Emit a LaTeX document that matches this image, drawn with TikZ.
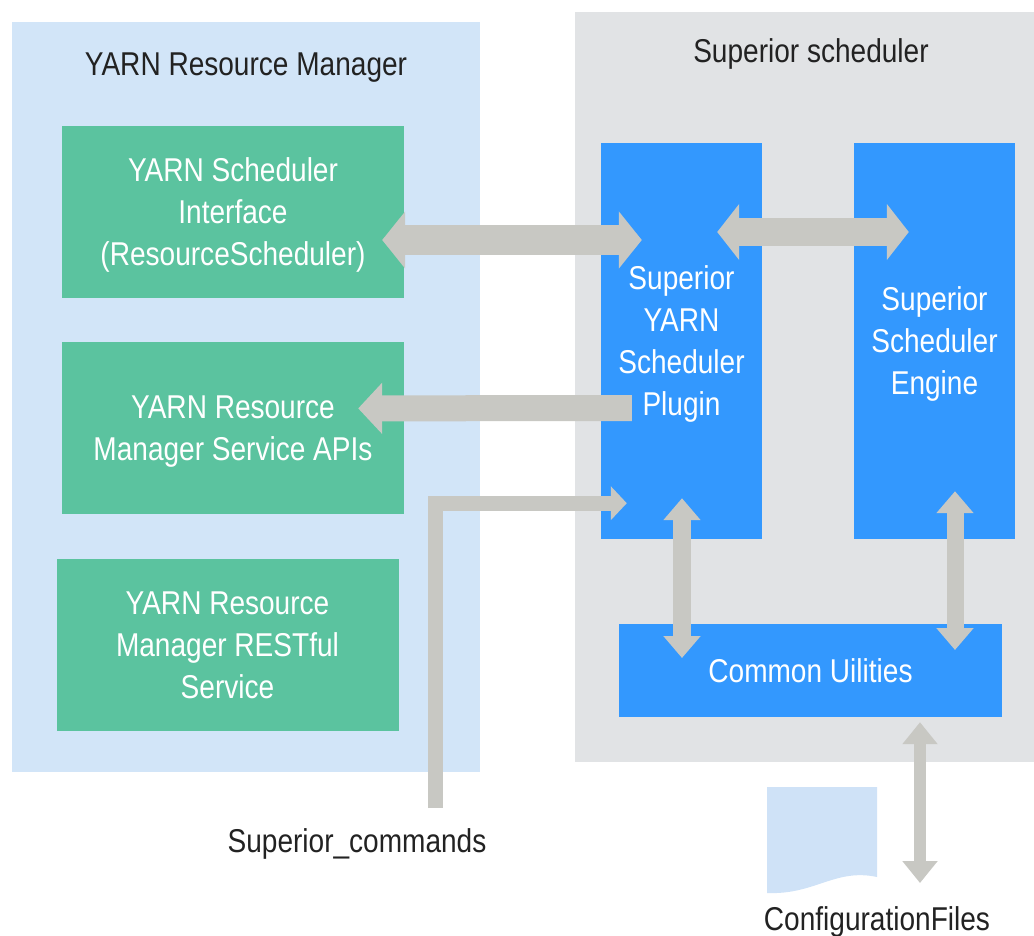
\documentclass[tikz,border=0pt]{standalone}
\usepackage{fontspec}
\setmainfont{Liberation Sans}[FakeStretch=0.85]
\usepackage{xcolor}
\usetikzlibrary{arrows.meta,positioning,calc}

\definecolor{rmback}{HTML}{D2E5F8}
\definecolor{ssback}{HTML}{E1E3E5}
\definecolor{rmgreen}{HTML}{5BC39F}
\definecolor{ssblue}{HTML}{3398FE}
\definecolor{flowgray}{HTML}{C8C8C3}
\definecolor{cfgblue}{HTML}{CFE2F7}
\definecolor{labeltext}{HTML}{222222}

\begin{document}
\begin{tikzpicture}[x=1pt,y=-1pt,node distance=44pt,>=Latex,font=\fontsize{33}{42}\selectfont]
  \tikzstyle{panel}=[inner sep=0pt,anchor=north west]
  \tikzstyle{heading}=[text=labeltext,anchor=base,inner sep=0pt]
  \tikzstyle{gbox}=[fill=rmgreen,text=white,align=center,text depth=-6pt,minimum width=342pt,minimum height=172pt,inner sep=0pt]
  \tikzstyle{bbox}=[fill=ssblue,text=white,align=center,text depth=-6pt,minimum width=161pt,minimum height=396pt,inner sep=0pt]
  \tikzstyle{flow}=[draw=flowgray]
  \useasboundingbox (0,0) rectangle (1034,935);

  % the two groups
  \node[panel,fill=rmback,minimum width=468pt,minimum height=750pt] (rm) at (12,22) {};
  \node[panel,fill=ssback,minimum width=459pt,minimum height=750pt] (ss) at (575,12) {};
  \node[heading] (rmtitle) at (246,75) {YARN Resource Manager};
  \node[heading] (sstitle) at (811,62) {Superior scheduler};

  % resource manager parts
  \node[gbox] (ifc) at (233,212) {YARN Scheduler\\Interface\\(ResourceScheduler)};
  \node[gbox,below=of ifc] (api) {YARN Resource\\Manager Service APIs};
  \node[gbox,below=of api,xshift=-5.5pt] (rest) {YARN Resource\\Manager RESTful\\Service};

  % superior scheduler parts
  \node[bbox] (plugin) at (681.5,341) {Superior\\YARN\\Scheduler\\Plugin};
  \node[bbox] (engine) at (934.5,341) {Superior\\Scheduler\\Engine};
  \node[fill=ssblue,text=white,minimum width=383pt,minimum height=93pt,inner sep=0pt] (util) at (810.5,670.5) {Common Uilities};

  % outside
  \node[heading] (cmd) at (357,852) {Superior\_commands};
  \fill[cfgblue] (767,787) -- (877,787) -- (877,877) .. controls (835,868) and (815,895) .. (767,893) -- cycle;
  \node[heading] (cfg) at (877,930) {ConfigurationFiles};
  \coordinate (cfgend) at (920,883);

  % flows
  \draw[flow,line width=30pt,{Triangle[width=56pt,length=23pt]}-{Triangle[width=56pt,length=23pt]}]
    ([shift={(-22,28)}]ifc.east) -- ([shift={(41,-101)}]plugin.west);
  \draw[flow,line width=28pt,{Triangle[width=55pt,length=22pt]}-{Triangle[width=55pt,length=22pt]}]
    ([shift={(-45,-109)}]plugin.east) -- ([shift={(55,-109)}]engine.west);
  \draw[flow,line width=26pt,-{Triangle[width=50pt,length=24pt]}]
    ([shift={(31,67)}]plugin.west) -- ([shift={(-46,-20)}]api.east);
  \draw[flow,line width=15pt,-{Triangle[width=33pt,length=16pt]}]
    ([shift={(78,-44)}]cmd.base) |- ([shift={(26,-36)}]plugin.south west);
  \draw[flow,line width=18pt,{Triangle[width=36pt,length=22pt]}-{Triangle[width=36pt,length=22pt]}]
    ([shift={(0.5,-41)}]plugin.south) -- ($(plugin.south |- util.center)+(0.5,-12.5)$);
  \draw[flow,line width=17pt,{Triangle[width=36pt,length=22pt]}-{Triangle[width=36pt,length=22pt]}]
    ([shift={(20.5,-48)}]engine.south) -- ($(engine.south |- util.center)+(20.5,-20.5)$);
  \draw[flow,line width=12pt,{Triangle[width=34pt,length=22pt]}-{Triangle[width=34pt,length=22pt]}]
    ([shift={(109.5,5)}]util.south) -- (cfgend);
\end{tikzpicture}
\end{document}
